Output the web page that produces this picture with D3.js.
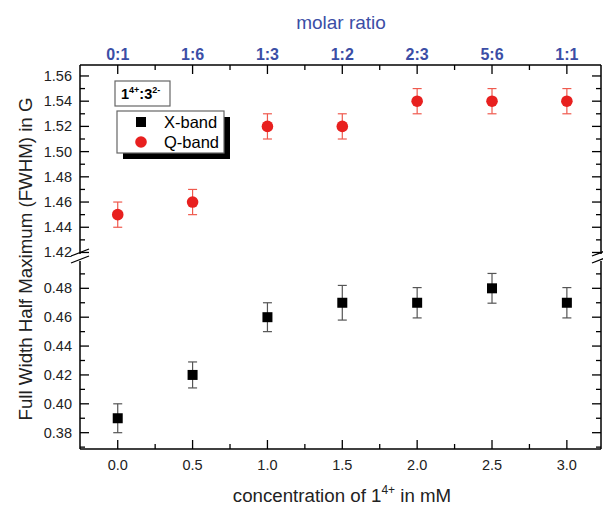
<!DOCTYPE html>
<html><head><meta charset="utf-8">
<script src="https://cdn.jsdelivr.net/npm/d3@7"></script>
<style>body{margin:0;background:#fff}svg{display:block}text{font-family:"Liberation Sans",Arial,sans-serif}</style>
</head><body><svg id="c" width="603" height="507"></svg>
<script>
const conc = [0.0, 0.5, 1.0, 1.5, 2.0, 2.5, 3.0];
const ratioLabels = ["0:1","1:6","1:3","1:2","2:3","5:6","1:1"];
const xband = [0.39, 0.42, 0.46, 0.47, 0.47, 0.48, 0.47];
const xbandErr = [0.010, 0.009, 0.010, 0.012, 0.0105, 0.0103, 0.0105];
const qband = [1.45, 1.46, 1.52, 1.52, 1.54, 1.54, 1.54];
const qbandErr = [0.010, 0.010, 0.010, 0.010, 0.010, 0.010, 0.010];
const xTicks = [0.0, 0.5, 1.0, 1.5, 2.0, 2.5, 3.0];
const upTicks = [1.42, 1.44, 1.46, 1.48, 1.50, 1.52, 1.54, 1.56];
const loTicks = [0.38, 0.40, 0.42, 0.44, 0.46, 0.48];

const svg = d3.select("#c");
const L = 80, R = 601, T = 65, B = 449;
const x = d3.scaleLinear().domain([-0.252, 3.228]).range([L, R]);
const yUp = d3.scaleLinear().domain([1.4172, 1.5687]).range([256, T]);
const yLo = d3.scaleLinear().domain([0.3687, 0.501]).range([B, 258]);

const blue = "#3b4ea6";
const g = svg.append("g");

// frame lines
g.append("line").attr("x1",L).attr("x2",R).attr("y1",T).attr("y2",T).attr("stroke","#000").attr("stroke-width",1.5);
g.append("line").attr("x1",L).attr("x2",R).attr("y1",B).attr("y2",B).attr("stroke","#000").attr("stroke-width",1.5);
[L,R].forEach(xx=>{
  g.append("line").attr("x1",xx).attr("x2",xx).attr("y1",T).attr("y2",254).attr("stroke","#000").attr("stroke-width",1.5);
  g.append("line").attr("x1",xx).attr("x2",xx).attr("y1",261).attr("y2",B).attr("stroke","#000").attr("stroke-width",1.5);
  [0,7].forEach(o=>g.append("line").attr("x1",xx-9).attr("x2",xx+9).attr("y1",256+o).attr("y2",249+o).attr("stroke","#000").attr("stroke-width",1.3));
});

// x ticks (inward, bottom and top)
const minorX = d3.range(-0.25, 3.26, 0.25).filter(v=>Math.abs(v*2-Math.round(v*2))>0.01);
xTicks.forEach(v=>{
  g.append("line").attr("x1",x(v)).attr("x2",x(v)).attr("y1",B).attr("y2",B-9).attr("stroke","#000").attr("stroke-width",1.3);
  g.append("line").attr("x1",x(v)).attr("x2",x(v)).attr("y1",T).attr("y2",T+9).attr("stroke","#000").attr("stroke-width",1.3);
});
minorX.filter(v=>v>-0.2&&v<3.2).forEach(v=>{
  g.append("line").attr("x1",x(v)).attr("x2",x(v)).attr("y1",B).attr("y2",B-5).attr("stroke","#000").attr("stroke-width",1.3);
  g.append("line").attr("x1",x(v)).attr("x2",x(v)).attr("y1",T).attr("y2",T+5).attr("stroke","#000").attr("stroke-width",1.3);
});
xTicks.forEach(v=>{
  g.append("text").attr("x",x(v)).attr("y",470).attr("text-anchor","middle").attr("font-size",14.5).attr("fill","#222").text(v.toFixed(1));
});
ratioLabels.forEach((t,i)=>{
  g.append("text").attr("x",x(conc[i])).attr("y",60).attr("text-anchor","middle").attr("font-size",16).attr("font-weight","bold").attr("fill",blue).text(t);
});
g.append("text").attr("x",341).attr("y",29).attr("text-anchor","middle").attr("font-size",19).attr("fill",blue).text("molar ratio");

// y ticks
function yTickSet(scale, majors, minors){
  majors.forEach(v=>{
    [[L,L+9],[R,R-9]].forEach(([a,b])=>g.append("line").attr("x1",a).attr("x2",b).attr("y1",scale(v)).attr("y2",scale(v)).attr("stroke","#000").attr("stroke-width",1.3));
    g.append("text").attr("x",72).attr("y",scale(v)+5).attr("text-anchor","end").attr("font-size",14.5).attr("fill","#222").text(v.toFixed(2));
  });
  minors.forEach(v=>{
    [[L,L+5],[R,R-5]].forEach(([a,b])=>g.append("line").attr("x1",a).attr("x2",b).attr("y1",scale(v)).attr("y2",scale(v)).attr("stroke","#000").attr("stroke-width",1.3));
  });
}
yTickSet(yUp, upTicks, upTicks.slice(0,-1).map(v=>v+0.01));
yTickSet(yLo, loTicks, loTicks.map(v=>v-0.01).concat([0.49]).filter(v=>yLo(v)<B-1));

// titles
svg.append("text").attr("transform","translate(32,259) rotate(-90)").attr("text-anchor","middle").attr("font-size",18.7).attr("fill","#222").text("Full Width Half Maximum (FWHM) in G");
const xt = svg.append("text").attr("x",342).attr("y",502).attr("text-anchor","middle").attr("font-size",18.7).attr("fill","#222");
xt.append("tspan").text("concentration of 1");
xt.append("tspan").attr("font-size",12).attr("dy",-8).text("4+");
xt.append("tspan").attr("dy",8).text(" in mM");

// error bars + markers
function errBars(vals, errs, scale, col){
  vals.forEach((v,i)=>{
    const cx = x(conc[i]);
    g.append("line").attr("x1",cx).attr("x2",cx).attr("y1",scale(v-errs[i])).attr("y2",scale(v+errs[i])).attr("stroke",col).attr("stroke-width",1.2);
    [v-errs[i], v+errs[i]].forEach(e=>g.append("line").attr("x1",cx-4.5).attr("x2",cx+4.5).attr("y1",scale(e)).attr("y2",scale(e)).attr("stroke",col).attr("stroke-width",1.2));
  });
}
errBars(xband, xbandErr, yLo, "#555");
errBars(qband, qbandErr, yUp, "#ef5a4e");
xband.forEach((v,i)=>g.append("rect").attr("x",x(conc[i])-5).attr("y",yLo(v)-5).attr("width",10).attr("height",10).attr("fill","#000"));
qband.forEach((v,i)=>g.append("circle").attr("cx",x(conc[i])).attr("cy",yUp(v)).attr("r",5.8).attr("fill","#e8201f"));

// legend
const lg = svg.append("g");
lg.append("rect").attr("x",115).attr("y",81).attr("width",55).attr("height",25).attr("fill","#fff").attr("stroke","#666").attr("stroke-width",1.2);
const lt = lg.append("text").attr("x",121).attr("y",99).attr("font-size",14.5).attr("font-weight","bold").attr("fill","#000");
lt.append("tspan").text("1");
lt.append("tspan").attr("font-size",9).attr("dy",-6).text("4+");
lt.append("tspan").attr("dy",6).text(":3");
lt.append("tspan").attr("font-size",9).attr("dy",-6).text("2-");
lg.append("rect").attr("x",123).attr("y",117).attr("width",107).attr("height",42).attr("fill","#000");
lg.append("rect").attr("x",117).attr("y",111).attr("width",107).attr("height",42).attr("fill","#fff").attr("stroke","#666").attr("stroke-width",1.2);
lg.append("rect").attr("x",136).attr("y",117).attr("width",10).attr("height",10).attr("fill","#000");
lg.append("circle").attr("cx",141).attr("cy",142).attr("r",5.8).attr("fill","#e8201f");
lg.append("text").attr("x",164).attr("y",128).attr("font-size",16.5).attr("fill","#000").text("X-band");
lg.append("text").attr("x",164).attr("y",148).attr("font-size",16.5).attr("fill","#000").text("Q-band");
</script></body></html>
